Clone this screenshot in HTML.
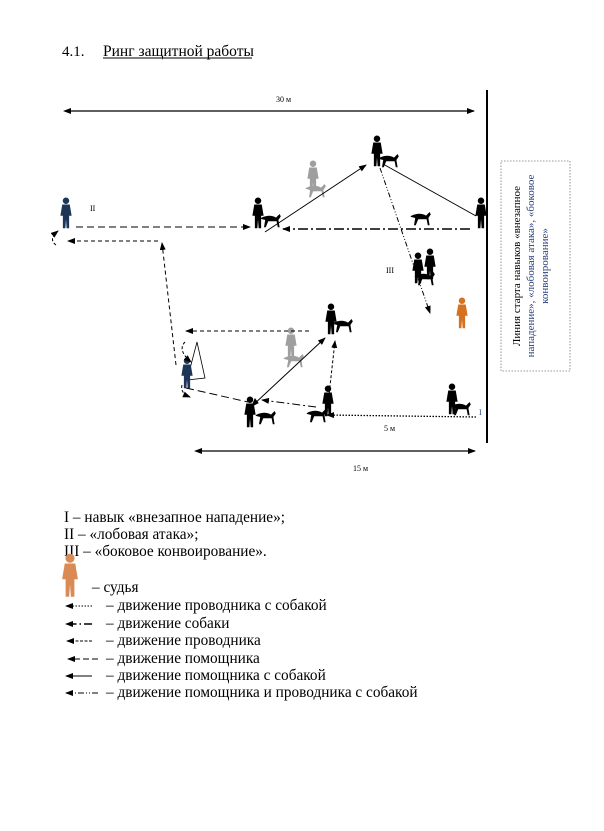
<!DOCTYPE html>
<html><head><meta charset="utf-8"><style>
body{margin:0;background:#fff;width:604px;height:831px;overflow:hidden}
svg{display:block}
text{font-family:"Liberation Serif",serif}
</style></head><body>
<svg width="604" height="831" viewBox="0 0 604 831" xmlns="http://www.w3.org/2000/svg">
<defs>
<marker id="a" markerWidth="8" markerHeight="6" refX="7" refY="3" orient="auto" markerUnits="userSpaceOnUse"><path d="M0,0 L8,3 L0,6 z" fill="#000"/></marker>
<g id="man"><g transform="scale(1.25)"><circle cx="0" cy="-17" r="2.6"/><path d="M-3,-14 h6 l1.5,9 h-2 l0,10 h-2 l-0.5,-7 l-0.5,7 h-2 l0,-10 h-2 z"/></g></g>
<g id="dog"><g transform="scale(1.2)"><path d="M-7,-2 q7,-3 12,0 l3,-3 l1,2 l-2,3 l1,6 h-1.5 l-1,-5 l-7,0 l-2,5 h-1.5 l1,-6 l-4,-1 z"/></g></g>
</defs>
<text x="62" y="56" font-size="15">4.1.</text>
<text x="103" y="56" font-size="15.5">Ринг защитной работы</text>
<line x1="103" y1="58" x2="252" y2="58" stroke="#000" stroke-width="1"/>

<!-- 30 m -->
<line x1="66" y1="111" x2="474" y2="111" stroke="#000" stroke-width="1.2" marker-end="url(#a)"/>
<path d="M63,111 l8,-3 v6z" fill="#000"/>
<text x="276" y="102" font-size="8">30 м</text>
<line x1="487" y1="90" x2="487" y2="443" stroke="#000" stroke-width="2"/>

<rect x="501" y="161" width="69" height="210" fill="none" stroke="#777" stroke-width="0.8" stroke-dasharray="1.5,1.5"/>
<g transform="translate(520,266) rotate(-90)" font-size="11" text-anchor="middle">
<text x="0" y="0">Линия старта навыков «внезапное</text>
<text x="0" y="14" fill="#2a3f7a">нападение», «лобовая атака», «боковое</text>
<text x="0" y="28" fill="#2a3f7a">конвоирование»</text>
</g>

<!-- figures -->
<use href="#man" x="66" y="222" fill="#1d3556"/>
<text x="90" y="211" font-size="8">II</text>
<use href="#man" x="258" y="222"/><use href="#dog" x="270" y="220"/>
<g fill="#777" opacity="0.7"><use href="#man" x="313" y="185"/><use href="#dog" x="315" y="190"/></g>
<use href="#man" x="377" y="160"/><use href="#dog" x="388" y="160"/>
<use href="#man" x="481" y="222"/>
<use href="#dog" x="420" y="218"/>
<use href="#man" x="418" y="277"/><use href="#man" x="430" y="273"/><use href="#dog" x="424" y="278"/>
<text x="386" y="273" font-size="8">III</text>
<use href="#man" x="462" y="322" fill="#d4721f"/>
<use href="#man" x="331" y="328"/><use href="#dog" x="342" y="325"/>
<g fill="#777" opacity="0.7"><use href="#man" x="291" y="352"/><use href="#dog" x="293" y="360"/></g>
<path d="M197,342 L187,380 L205,378 Z" fill="none" stroke="#000" stroke-width="0.8"/>
<use href="#man" x="187" y="382" fill="#1d3556"/>
<use href="#man" x="250" y="421"/><use href="#dog" x="265" y="417"/>
<use href="#man" x="328" y="410"/><use href="#dog" x="316" y="415"/>
<use href="#man" x="452" y="408"/><use href="#dog" x="460" y="408"/>
<text x="479" y="415" font-size="8" fill="#2a3f7a">I</text>

<!-- lines -->
<g stroke="#000" fill="none" stroke-width="1">
<line x1="76" y1="227" x2="250" y2="227" stroke-dasharray="7,4" marker-end="url(#a)"/>
<line x1="470" y1="229" x2="283" y2="229" stroke-dasharray="10,3,2,3" stroke-width="1.4" marker-end="url(#a)"/>
<line x1="265" y1="232" x2="366" y2="165" marker-end="url(#a)"/>
<line x1="476" y1="216" x2="383" y2="164"/>
<line x1="380" y1="168" x2="430" y2="313" stroke-dasharray="5,2,1,2,1,2" marker-end="url(#a)"/>
<path d="M56,245 q-8,-6 2,-14" stroke-dasharray="3,2" marker-end="url(#a)"/>
<line x1="176" y1="365" x2="162" y2="243" stroke-dasharray="4,3" marker-end="url(#a)"/>
<line x1="158" y1="241" x2="68" y2="241" stroke-dasharray="4,3" marker-end="url(#a)"/>
<line x1="309" y1="331" x2="186" y2="331" stroke-dasharray="4,3" marker-end="url(#a)"/>
<path d="M185,342 q-8,8 6,20" stroke-dasharray="3,2" marker-end="url(#a)"/>
<path d="M182,385 q-2,8 8,12" stroke-dasharray="3,2" marker-end="url(#a)"/>
<line x1="186" y1="388" x2="248" y2="402" stroke-dasharray="8,4"/>
<line x1="252" y1="406" x2="325" y2="338" marker-end="url(#a)"/>
<path d="M252,406 l3,-7 l3,4z" fill="#000"/>
<line x1="316" y1="407" x2="262" y2="400" stroke-dasharray="8,3,2,3" marker-end="url(#a)"/>
<line x1="327" y1="413" x2="335" y2="341" stroke-dasharray="3,2" marker-end="url(#a)"/>
<line x1="476" y1="417" x2="327" y2="415" stroke-dasharray="1.5,1.5" stroke-width="1.3" marker-end="url(#a)"/>
<line x1="197" y1="451" x2="475" y2="451" stroke-width="1.2" marker-end="url(#a)"/>
</g>
<path d="M194,451 l8,-3 v6z" fill="#000"/>
<text x="384" y="431" font-size="8">5 м</text>
<text x="353" y="471" font-size="8">15 м</text>

<!-- legend -->
<g font-size="15.3">
<text x="64" y="522">I – навык «внезапное нападение»;</text>
<text x="64" y="539">II – «лобовая атака»;</text>
<text x="64" y="556">III – «боковое конвоирование».</text>
<text x="92" y="592">– судья</text>
<text x="106" y="610">– движение проводника с собакой</text>
<text x="106" y="628">– движение собаки</text>
<text x="106" y="645">– движение проводника</text>
<text x="106" y="663">– движение помощника</text>
<text x="106" y="680">– движение помощника с собакой</text>
<text x="106" y="697">– движение помощника и проводника с собакой</text>
</g>
<g transform="translate(70,588) scale(1.4)" fill="#d98a55"><use href="#man" x="0" y="0"/></g>
<g stroke="#000" fill="none" stroke-width="1">
<line x1="92" y1="606" x2="66" y2="606" stroke-dasharray="1.5,1.5" marker-end="url(#a)"/>
<line x1="92" y1="624" x2="66" y2="624" stroke-dasharray="8,3,1.5,3" stroke-width="1.4" marker-end="url(#a)"/>
<line x1="92" y1="641" x2="67" y2="641" stroke-dasharray="3,1.5" marker-end="url(#a)"/>
<line x1="98" y1="659" x2="68" y2="659" stroke-dasharray="6,3" marker-end="url(#a)"/>
<line x1="92" y1="676" x2="66" y2="676" marker-end="url(#a)"/>
<line x1="98" y1="693" x2="66" y2="693" stroke-dasharray="6,2,1,2,1,2" marker-end="url(#a)"/>
</g>
</svg>
</body></html>
